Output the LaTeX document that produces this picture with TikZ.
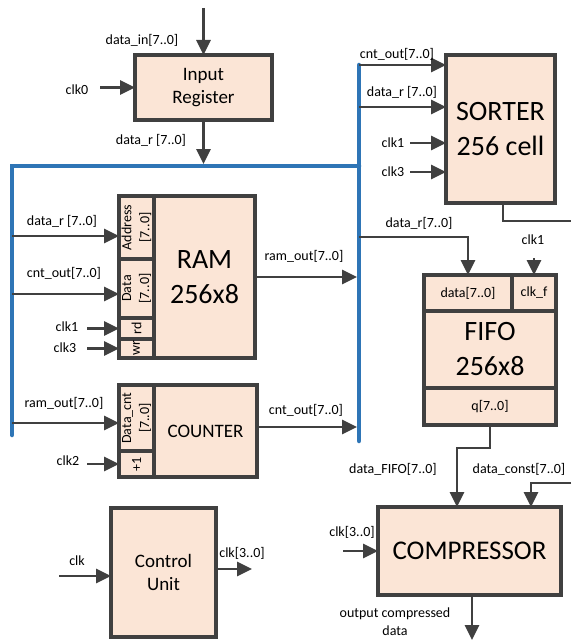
\documentclass[tikz,border=0pt]{standalone}
\usepackage{fontspec}
\setmainfont{Carlito}
\usepackage{tikz}
\usetikzlibrary{arrows.meta,positioning}
\definecolor{wirecol}{HTML}{404040}
\definecolor{boxfill}{HTML}{FBE5D6}
\definecolor{buscol}{HTML}{2E75B6}
\newcommand{\lblsize}{\fontsize{14}{18}\selectfont}

\begin{document}
\begin{tikzpicture}[x=1pt,y=-1pt,
  blk/.style={draw=wirecol,line width=3.8pt,fill=boxfill,inner sep=0pt,outer sep=0pt,align=center},
  big/.style={font=\fontsize{28}{35}\selectfont},
  mid/.style={font=\fontsize{19}{23}\selectfont},
  port/.style={blk,font=\lblsize},
  lbl/.style={font=\lblsize,inner sep=0pt,align=center},
  arr/.style={draw=wirecol,line width=2.8pt,-{Triangle[length=15pt,width=14pt]}},
  wire/.style={draw=wirecol,line width=2.8pt},
  bus/.style={draw=buscol,line width=4.5pt,line cap=round}]
\useasboundingbox (0,0) rectangle (571,642);
% Data bus
\draw[bus] (12,435) -- (12,166) -- (359,166);
\draw[bus] (359,65) -- (359,441);
% Input register
\node[blk,mid,minimum width=137,minimum height=65] (inreg) at (203.5,87.5) {Input\\Register};
\coordinate (din) at (203.5,8);
\coordinate (clk0) at (100,87.5);
\coordinate (busA) at (203.5,164);
\draw[arr] (din) -- (inreg.north);
\draw[arr] (clk0) -- (inreg.west);
\draw[arr] (inreg.south) -- (busA);
\node[lbl] (ldin) at (142,40) {data\_in[7..0]};
\node[lbl] (lclk0) at (77,90) {clk0};
\node[lbl] (ldr) at (151,140) {data\_r [7..0]};
% RAM
\node[port,rotate=90,minimum width=63,minimum height=35] (addr) at (136.5,227.5) {Address\\{[7..0]}};
\node[port,rotate=90,minimum width=59,minimum height=35] (datp) at (136.5,288.5) {Data\\{[7..0]}};
\node[port,rotate=90,minimum width=21,minimum height=35] (rdp) at (136.5,328.5) {rd};
\node[port,rotate=90,minimum width=19,minimum height=35] (wrp) at (136.5,348.5) {wr};
\node[blk,big,minimum width=101,minimum height=162] (ram) at (204.5,277) {RAM\\256x8};
\coordinate (tapA) at (12,236);
\coordinate (tapD) at (12,294);
\coordinate (c1) at (87,328.5);
\coordinate (c3) at (87,348.5);
\coordinate (busR1) at (357,277);
\draw[arr] (tapA) -- (tapA -| addr.north);
\draw[arr] (tapD) -- (tapD -| datp.north);
\draw[arr] (c1) -- (rdp.north);
\draw[arr] (c3) -- (wrp.north);
\draw[arr] (ram.east) -- (busR1);
\node[lbl] (lra) at (62,221) {data\_r [7..0]};
\node[lbl] (lrd) at (64,273) {cnt\_out[7..0]};
\node[lbl] (lrc1) at (67,327) {clk1};
\node[lbl] (lrc3) at (65,348) {clk3};
\node[lbl] (lro) at (304,256) {ram\_out[7..0]};
% Counter
\node[port,rotate=90,minimum width=66,minimum height=35] (dcnt) at (136.5,418) {Data\_cnt\\{[7..0]}};
\node[port,rotate=90,minimum width=26,minimum height=35] (inc) at (136.5,464) {+1};
\node[blk,mid,minimum width=103,minimum height=92] (cnt) at (205.5,431) {COUNTER};
\coordinate (tapC) at (12,423);
\coordinate (c2) at (87,464);
\coordinate (busR2) at (357,427);
\draw[arr] (tapC) -- (tapC -| dcnt.north);
\draw[arr] (c2) -- (inc.north);
\draw[arr] (busR2 -| cnt.east) -- (busR2);
\node[lbl] (lci) at (64,403) {ram\_out[7..0]};
\node[lbl] (lcc2) at (68,461) {clk2};
\node[lbl] (lco) at (306,410) {cnt\_out[7..0]};
% Sorter
\node[blk,big,minimum width=109,minimum height=148] (sort) at (500.5,129) {SORTER\\256 cell};
\coordinate (tapS1) at (359,65);
\coordinate (tapS2) at (359,107);
\coordinate (s1) at (410,143);
\coordinate (s3) at (410,172);
\coordinate (sout) at (571,221);
\draw[arr] (tapS1) -- (tapS1 -| sort.west);
\draw[arr] (tapS2) -- (tapS2 -| sort.west);
\draw[arr] (s1) -- (s1 -| sort.west);
\draw[arr] (s3) -- (s3 -| sort.west);
\draw[wire] ([xshift=2.5pt]sort.south) |- (sout);
\node[lbl] (lsc) at (397,54) {cnt\_out[7..0]};
\node[lbl] (lsd) at (402,92) {data\_r [7..0]};
\node[lbl] (lsc1) at (393,143) {clk1};
\node[lbl] (lsc3) at (393,172) {clk3};
% FIFO
\node[port,minimum width=88,minimum height=36] (fdat) at (468,293) {data[7..0]};
\node[port,minimum width=44,minimum height=36,right=0pt of fdat] (clkf) {clk\_f};
\node[blk,big,minimum width=132,minimum height=77,anchor=north west] (fifo) at (fdat.south west) {FIFO\\256x8};
\node[port,minimum width=132,minimum height=37,below=0pt of fifo] (qout) {q[7..0]};
\coordinate (tapF) at (359,237);
\coordinate (fclk) at (534,258);
\draw[arr] (tapF) -| (fdat.north);
\draw[arr] (fclk) -- (clkf.north);
\node[lbl] (lfd) at (419,223) {data\_r[7..0]};
\node[lbl] (lfc) at (533,240) {clk1};
% Compressor
\node[blk,font=\fontsize{27}{32}\selectfont,minimum width=183,minimum height=88] (comp) at (469.5,551) {COMPRESSOR};
\coordinate (qbend) at (457,448);
\coordinate (cin) at (571,483);
\coordinate (cbend) at (531,483);
\coordinate (cclk) at (343,551);
\coordinate (cout) at (472,640);
\draw[arr] (qout.south) |- (qbend) -- (qbend |- comp.north);
\draw[arr] (cin) -- (cbend) -- (cbend |- comp.north);
\draw[arr] (cclk) -- (comp.west);
\draw[arr] (comp.south -| cout) -- (cout);
\node[lbl] (lcf) at (393,469) {data\_FIFO[7..0]};
\node[lbl] (lcd) at (519,469) {data\_const[7..0]};
\node[lbl] (lcclk) at (352,532) {clk[3..0]};
\node[lbl] (lcout) at (395,622) {output compressed\\data};
% Control unit
\node[blk,mid,minimum width=105,minimum height=129] (ctrl) at (163.5,572.5) {Control\\Unit};
\coordinate (clkin) at (59,576);
\coordinate (clkout) at (252,569);
\draw[arr] (clkin) -- (clkin -| ctrl.west);
\draw[arr] ([xshift=2pt]clkout -| ctrl.east) -- (clkout);
\node[lbl] (luin) at (77,561) {clk};
\node[lbl] (luout) at (242,553) {clk[3..0]};
\end{tikzpicture}
\end{document}
